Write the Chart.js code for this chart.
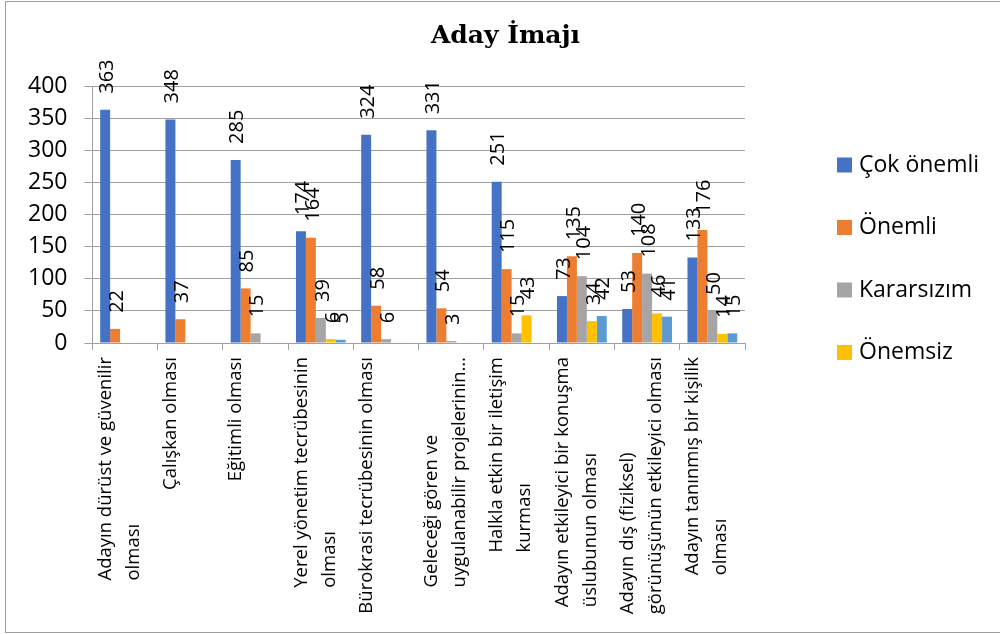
<!DOCTYPE html>
<html>
<head>
<meta charset="utf-8">
<script src="https://cdn.jsdelivr.net/npm/chart.js@4"></script>
<style>
  body { margin: 0; background: #fff; }
  #wrap { position: relative; width: 1000px; height: 634px; }
</style>
</head>
<body>
<div id="wrap"><canvas id="aday-chart"></canvas></div>
<script>
const categories = [
  ['Adayın dürüst ve güvenilir', 'olması'],
  ['Çalışkan olması'],
  ['Eğitimli olması'],
  ['Yerel yönetim tecrübesinin', 'olması'],
  ['Bürokrasi tecrübesinin olması'],
  ['Geleceği gören ve', 'uygulanabilir projelerinin…'],
  ['Halkla etkin bir iletişim', 'kurması'],
  ['Adayın etkileyici bir konuşma', 'üslubunun olması'],
  ['Adayın dış (fiziksel)', 'görünüşünün etkileyici olması'],
  ['Adayın tanınmış bir kişilik', 'olması']
];
const seriesNames = ['Çok önemli', 'Önemli', 'Kararsızım', 'Önemsiz', ''];
const cokOnemli = [363, 348, 285, 174, 324, 331, 251, 73, 53, 133];
const onemli = [22, 37, 85, 164, 58, 54, 115, 135, 140, 176];
const kararsizim = [null, null, 15, 39, 6, 3, 15, 104, 108, 50];
const onemsiz = [null, null, null, 6, null, null, 43, 34, 46, 14];
const diger = [null, null, null, 5, null, null, null, 42, 41, 15];
const yTicks = [0, 50, 100, 150, 200, 250, 300, 350, 400];

const colors = ['#4472C4', '#ED7D31', '#A5A5A5', '#FFC000', '#5B9BD5'];
const FONT = '"Open Sans", sans-serif';

// outer frame
const framePlugin = {
  id: 'frame',
  beforeDraw(chart) {
    const c = chart.ctx;
    c.save();
    c.fillStyle = '#fff';
    c.fillRect(0, 0, chart.width, chart.height);
    c.strokeStyle = '#a0a0a0';
    c.lineWidth = 1;
    c.strokeRect(5.5, 1.5, chart.width + 10, chart.height - 3);
    c.restore();
  }
};

// rotated value labels above bars
const valueLabels = {
  id: 'valueLabels',
  afterDatasetsDraw(chart) {
    const c = chart.ctx;
    c.save();
    c.font = '20px ' + FONT;
    c.fillStyle = '#000';
    c.textAlign = 'left';
    c.textBaseline = 'middle';
    chart.data.datasets.forEach((ds, i) => {
      chart.getDatasetMeta(i).data.forEach((bar, j) => {
        const v = ds.data[j];
        if (v == null) return;
        c.save();
        c.translate(bar.x + 2, bar.y - 16);
        c.rotate(-Math.PI / 2);
        c.fillText(String(v), 0, 0);
        c.restore();
      });
    });
    c.restore();
  }
};

// category labels, rotated, lines start-aligned like the original
const catLabels = {
  id: 'catLabels',
  afterDraw(chart) {
    const x = chart.scales.x;
    const c = chart.ctx;
    const step = (x.right - x.left) / categories.length;
    c.save();
    c.font = '18.5px ' + FONT;
    c.fillStyle = '#000';
    c.textAlign = 'left';
    c.textBaseline = 'top';
    categories.forEach((lines, i) => {
      const left = x.getPixelForTick(i) - step / 2;
      const w = Math.max(...lines.map(l => c.measureText(l).width));
      c.save();
      c.translate(left + 4, x.top + 14 + w);
      c.rotate(-Math.PI / 2);
      lines.forEach((l, k) => c.fillText(l, 0, k * 28));
      c.restore();
    });
    c.restore();
  }
};

// legend on the right (fifth series has no entry)
const sideLegend = {
  id: 'sideLegend',
  afterDraw(chart) {
    const a = chart.chartArea;
    const c = chart.ctx;
    c.save();
    c.font = '23px ' + FONT;
    c.textBaseline = 'middle';
    c.textAlign = 'left';
    for (let i = 0; i < 4; i++) {
      const cy = a.top + 79 + i * 62.5;
      c.fillStyle = colors[i];
      c.fillRect(a.right + 92, cy - 7.5, 15, 15);
      c.fillStyle = '#000';
      c.fillText(seriesNames[i], a.right + 114, cy);
    }
    c.restore();
  }
};

const ctx = document.getElementById('aday-chart').getContext('2d');
new Chart(ctx, {
  type: 'bar',
  data: {
    labels: categories.map(l => l.join(' ')),
    datasets: [cokOnemli, onemli, kararsizim, onemsiz, diger].map((d, i) => ({
      label: seriesNames[i],
      data: d,
      backgroundColor: colors[i],
      barPercentage: 1,
      categoryPercentage: 0.763,
      clip: false
    }))
  },
  options: {
    responsive: true,
    maintainAspectRatio: false,
    animation: false,
    layout: { padding: { top: 4, left: 11, right: 0, bottom: 11 } },
    plugins: {
      legend: { display: false },
      tooltip: { enabled: false },
      title: {
        display: true,
        text: 'Aday İmajı',
        color: '#000',
        font: { family: '"DejaVu Serif", serif', size: 25, weight: 'bold', lineHeight: 1.2 },
        padding: { top: 17, bottom: 35 }
      }
    },
    scales: {
      x: {
        grid: { drawOnChartArea: false, drawTicks: true, tickLength: 7, color: '#a0a0a0', offset: true },
        border: { color: '#a0a0a0' },
        ticks: { display: false },
        afterFit(s) { s.height = 280; }
      },
      y: {
        min: 0,
        max: 400,
        afterBuildTicks(s) { s.ticks = yTicks.map(v => ({ value: v })); },
        grid: { color: '#a0a0a0', tickLength: 8 },
        border: { color: '#a0a0a0' },
        ticks: { color: '#000', padding: 17, font: { family: FONT, size: 23 } }
      },
      // empty right-hand scale, only keeps room for the legend
      space: {
        position: 'right',
        grid: { display: false },
        border: { display: false },
        ticks: { display: false },
        afterFit(s) { s.width = 255; }
      }
    }
  },
  plugins: [framePlugin, valueLabels, catLabels, sideLegend]
});
</script>
</body>
</html>
